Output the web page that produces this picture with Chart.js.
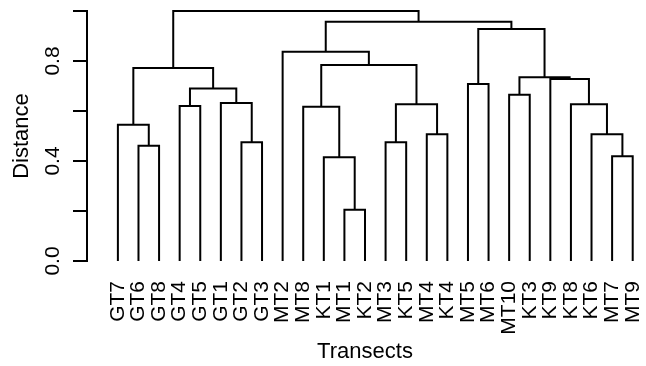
<!DOCTYPE html>
<html>
<head>
<meta charset="utf-8">
<script src="https://cdn.jsdelivr.net/npm/chart.js@4/dist/chart.umd.min.js"></script>
<style>
  html, body { margin: 0; padding: 0; background: #fff; }
  #wrap { width: 646px; height: 366px; }
</style>
</head>
<body>
<div id="wrap"><canvas id="myChart"></canvas></div>
<script>
// leaves, in the order they are drawn
const leafLabels = ['GT7', 'GT6', 'GT8', 'GT4', 'GT5', 'GT1', 'GT2', 'GT3', 'MT2', 'MT8',
  'KT1', 'MT1', 'KT2', 'MT3', 'KT5', 'MT4', 'KT4', 'MT5', 'MT6', 'MT10',
  'KT3', 'KT9', 'KT8', 'KT6', 'MT7', 'MT9'];

// merges like R's hclust: negative = leaf (-1 is the first leaf), positive = earlier merge
const mergeLeft  = [-12, -11, -25, -2, -7, -14, -16, -24, -1, -10, -4,  6, -23, -6, -20, 11, -18, -22, 15,  9, 10, -9, 17, 22, 20];
const mergeRight = [-13,   1, -26, -3, -8, -15, -17,   3,  4,   2, -5,  7,   8,  5, -21, 14, -19,  13, 18, 16, 12, 21, 19, 23, 24];
const mergeHeight = [0.205, 0.415, 0.419, 0.461, 0.475, 0.475, 0.507, 0.507, 0.545, 0.617,
  0.62, 0.627, 0.627, 0.632, 0.665, 0.69, 0.708, 0.728, 0.735, 0.772,
  0.784, 0.837, 0.928, 0.957, 1.0];

const yTickValues = [0, 0.2, 0.4, 0.6, 0.8, 1.0];
const yTickLabels = ['0.0', '', '0.4', '', '0.8', ''];

// build the U shapes of the tree
const nodes = [];
function node(ref) {
  return ref < 0 ? { x: -ref - 1, y: 0 } : nodes[ref - 1];
}
const datasets = [];
for (let i = 0; i < mergeHeight.length; i++) {
  const l = node(mergeLeft[i]);
  const r = node(mergeRight[i]);
  const h = mergeHeight[i];
  nodes.push({ x: (l.x + r.x) / 2, y: h });
  datasets.push({
    data: [{ x: l.x, y: l.y }, { x: l.x, y: h }, { x: r.x, y: h }, { x: r.x, y: r.y }],
    borderColor: '#000',
    borderWidth: 2,
    pointRadius: 0,
    tension: 0,
    fill: false,
    clip: false
  });
}

Chart.defaults.font.family = '"Liberation Sans", Arial, sans-serif';
Chart.defaults.color = '#000';

const ctx = document.getElementById('myChart');
new Chart(ctx, {
  type: 'line',
  data: { datasets: datasets },
  options: {
    responsive: true,
    maintainAspectRatio: false,
    animation: false,
    layout: { padding: { top: 11, right: 3, bottom: 0, left: 0 } },
    plugins: {
      legend: { display: false },
      tooltip: { enabled: false }
    },
    scales: {
      x: {
        type: 'linear',
        min: -1.5,
        max: leafLabels.length - 0.5,
        border: { display: false },
        grid: { display: false },
        afterBuildTicks: s => { s.ticks = leafLabels.map((_, i) => ({ value: i })); },
        afterFit: s => { s.height = 105; s.paddingLeft = 0; s.paddingRight = 0; },
        ticks: {
          autoSkip: false,
          minRotation: 90,
          maxRotation: 90,
          padding: 12,
          font: { size: 21 },
          callback: v => leafLabels[v]
        },
        title: {
          display: true,
          text: 'Transects',
          font: { size: 22 },
          padding: { top: 0, bottom: 1 }
        }
      },
      y: {
        min: 0,
        max: 1,
        border: { display: true, color: '#000', width: 2 },
        grid: { drawOnChartArea: false, drawTicks: true, tickLength: 14, color: '#000', lineWidth: 2 },
        afterBuildTicks: s => { s.ticks = yTickValues.map(v => ({ value: v })); },
        afterFit: s => { s.width = 87; s.paddingTop = 0; s.paddingBottom = 0; },
        ticks: {
          minRotation: 90,
          maxRotation: 90,
          crossAlign: 'center',
          padding: 5,
          font: { size: 21 },
          callback: (v, i) => yTickLabels[i]
        },
        title: {
          display: true,
          text: 'Distance',
          font: { size: 22 },
          padding: { top: 9, bottom: 0 }
        }
      }
    }
  }
});
</script>
</body>
</html>
